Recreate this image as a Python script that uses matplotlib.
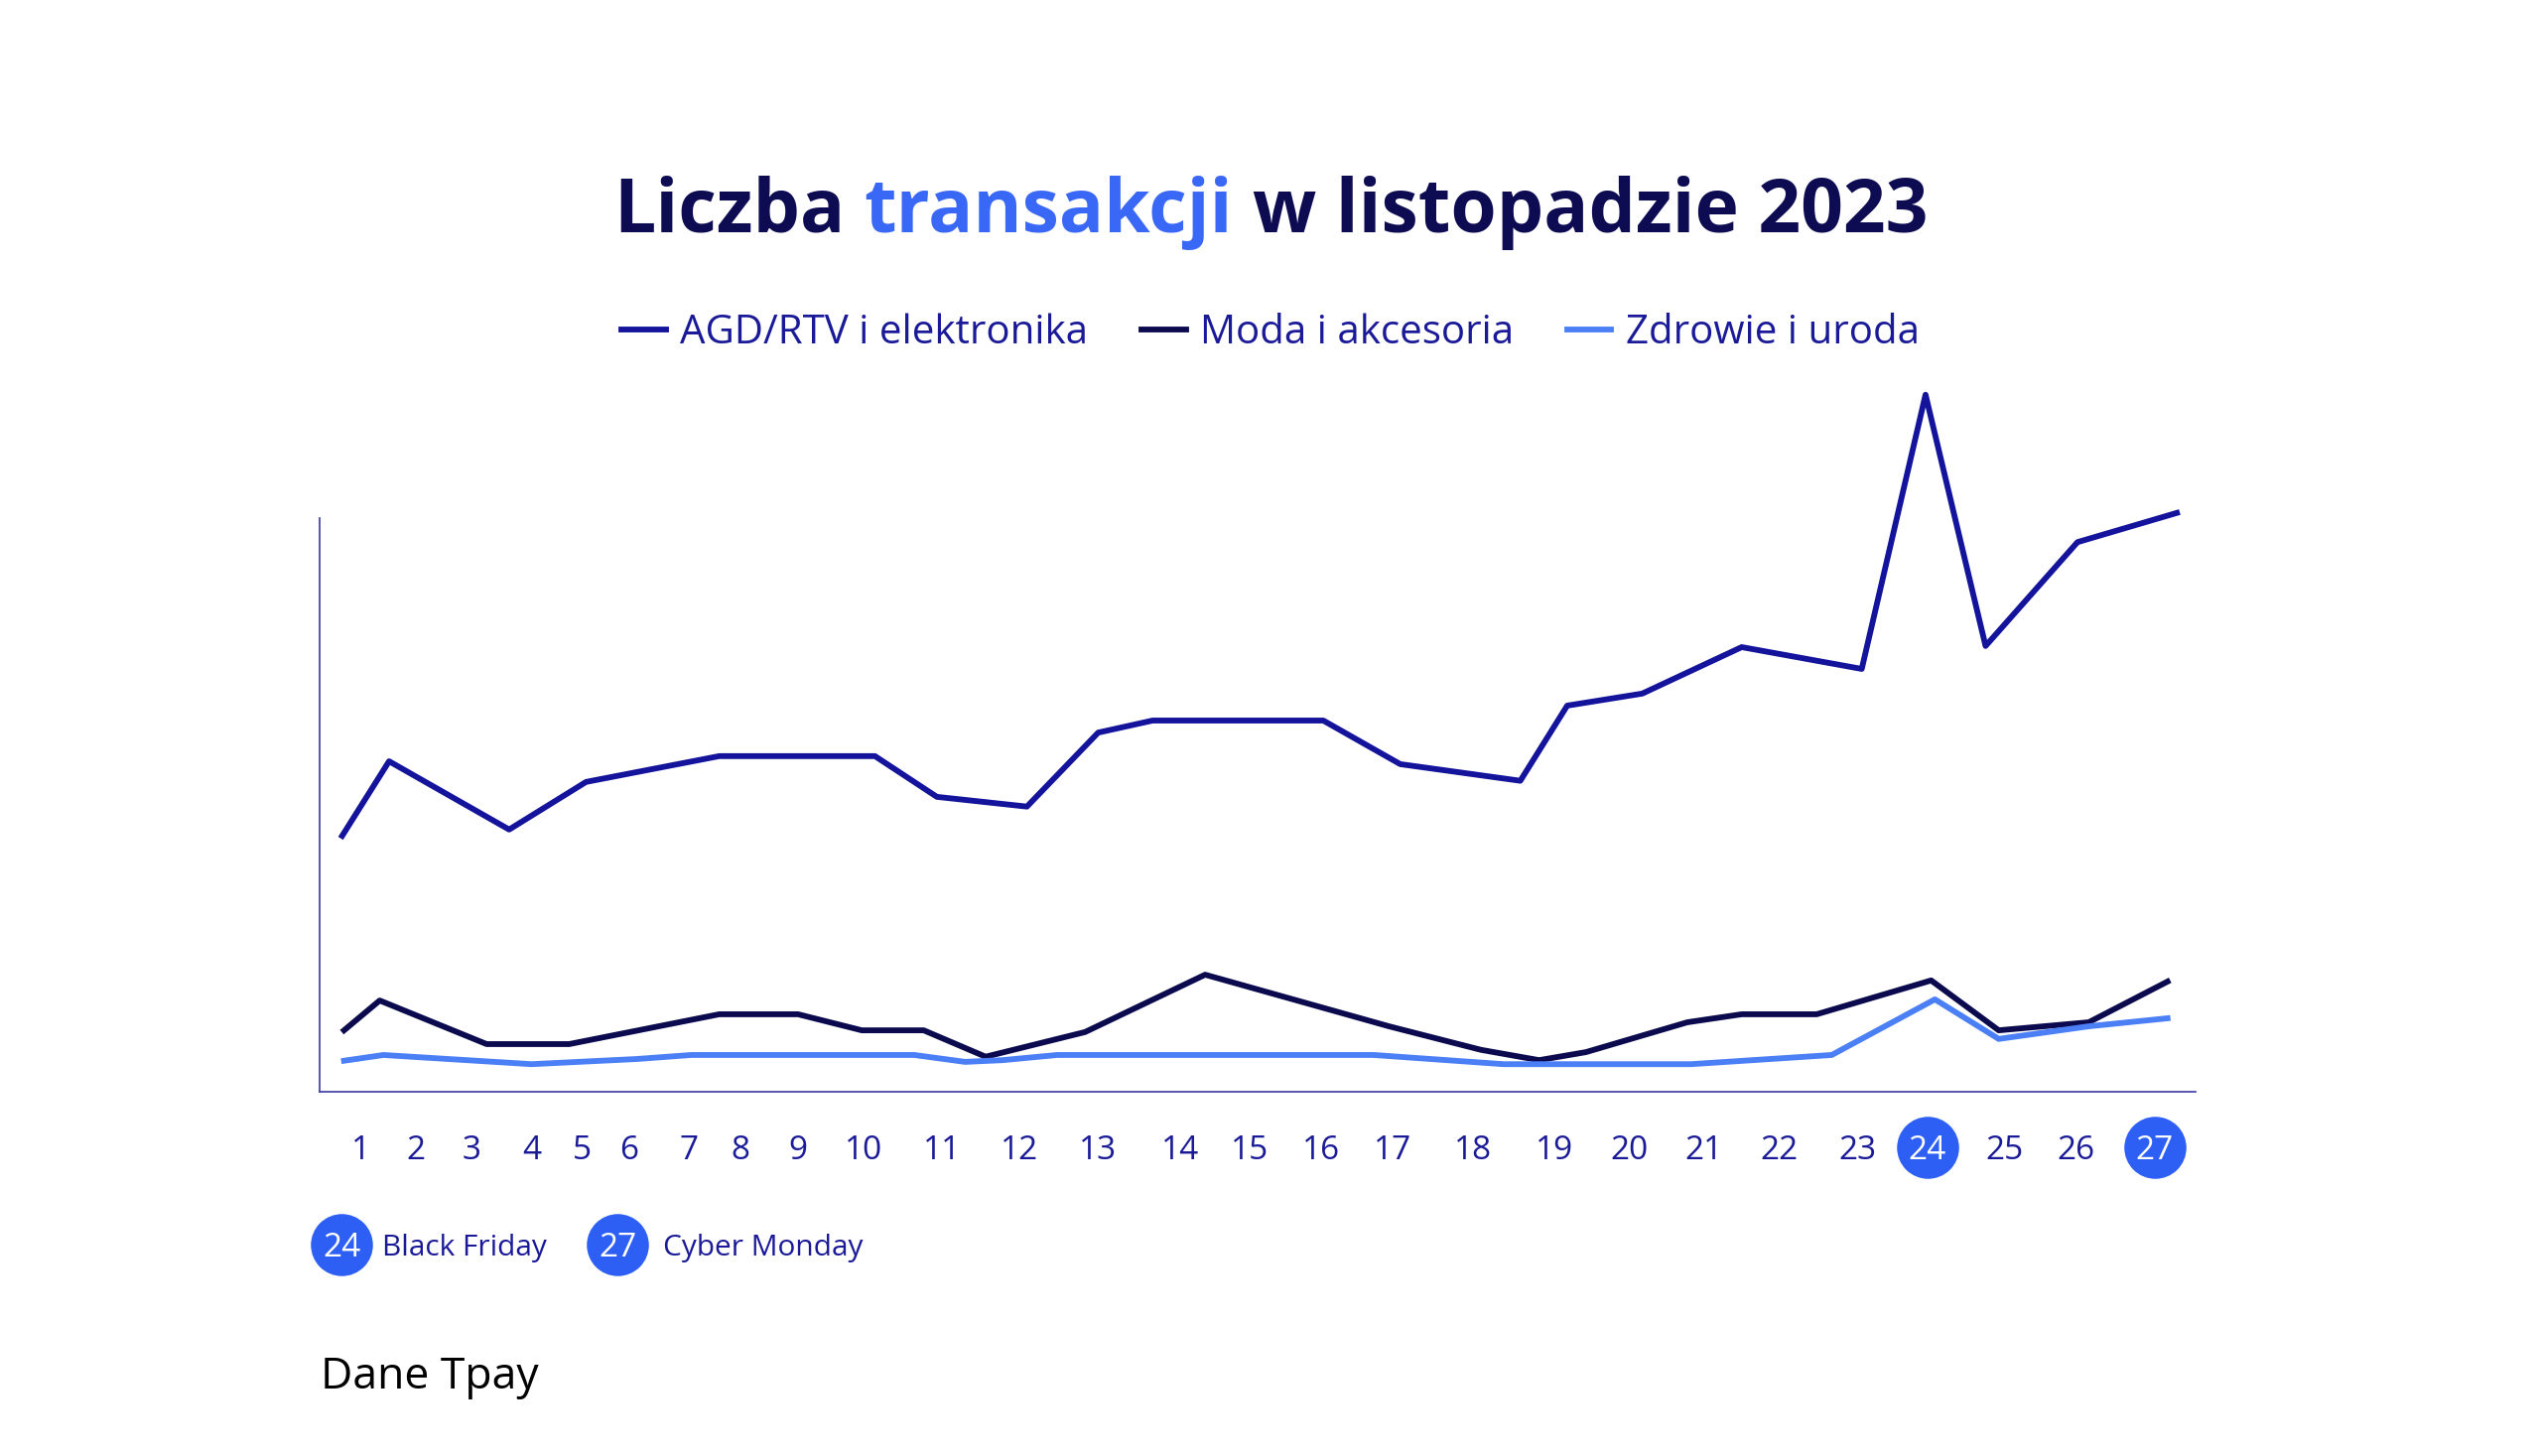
import matplotlib.pyplot as plt
from matplotlib.transforms import blended_transform_factory

plt.rcParams['font.family'] = ['Open Sans', 'DejaVu Sans']

# dni listopada i pozycje etykiet na osi (w % szerokości wykresu)
days = list(range(1, 28))
day_pos = [2.2, 5.1, 8.1, 11.3, 14.0, 16.5, 19.7, 22.4, 25.5, 29.0, 33.2, 37.3, 41.5,
           45.9, 49.6, 53.4, 57.2, 61.5, 65.8, 69.8, 73.8, 77.8, 82.0, 85.7, 89.8, 93.6, 97.8]
highlight = {24: 'Black Friday', 27: 'Cyber Monday'}

agd_x = [1.2, 3.7, 10.1, 14.2, 21.3, 29.6, 32.9, 37.7, 41.5, 44.4, 53.5, 57.6, 64.0,
         66.5, 70.5, 75.8, 82.2, 85.6, 88.8, 93.7, 99.0]
agd_y = [44.6, 57.6, 45.7, 54.0, 58.5, 58.5, 51.4, 49.7, 62.6, 64.7, 64.7, 57.1, 54.2,
         67.3, 69.4, 77.5, 73.7, 121.5, 77.7, 95.8, 100.9]

moda_x = [1.3, 3.2, 8.9, 13.3, 21.3, 25.5, 28.9, 32.2, 35.5, 40.8, 47.2, 57.0, 61.9,
          65.0, 67.5, 72.9, 75.8, 79.8, 85.9, 89.5, 94.3, 98.5]
moda_y = [10.7, 15.9, 8.3, 8.3, 13.5, 13.5, 10.7, 10.7, 6.1, 10.4, 20.4, 11.4, 7.3,
          5.5, 6.9, 12.1, 13.5, 13.5, 19.4, 10.7, 12.1, 19.2]

zdrowie_x = [1.3, 3.4, 11.3, 16.9, 19.8, 31.7, 34.4, 36.4, 39.3, 56.2, 63.1, 73.1,
             80.6, 86.1, 89.5, 94.3, 98.5]
zdrowie_y = [5.4, 6.4, 4.8, 5.7, 6.4, 6.4, 5.2, 5.5, 6.4, 6.4, 4.8, 4.8, 6.4, 16.1,
             9.2, 11.4, 12.8]

c_agd = '#13139b'
c_moda = '#0b0a4e'
c_zdr = '#4b7ff6'
c_text = '#1a1a98'
c_circle = '#2d5ff4'
c_navy = '#0d0b52'
c_hl = '#3a68f6'

fig = plt.figure(figsize=(25.6, 14.67), dpi=100)
ax = fig.add_axes([0.1258, 0.2502, 0.7383, 0.394])

lw = 4.2
ax.plot(agd_x, agd_y, color=c_agd, lw=lw, clip_on=False, label='AGD/RTV i elektronika')
ax.plot(moda_x, moda_y, color=c_moda, lw=lw, clip_on=False, label='Moda i akcesoria')
ax.plot(zdrowie_x, zdrowie_y, color=c_zdr, lw=lw, clip_on=False, label='Zdrowie i uroda')

ax.set_xlim(0, 100)
ax.set_ylim(0, 100)
for s in ['top', 'right']:
    ax.spines[s].set_visible(False)
for s in ['left', 'bottom']:
    ax.spines[s].set_color('#3a3aa8')
    ax.spines[s].set_linewidth(1.2)
ax.set_xticks([])
ax.set_yticks([])

# etykiety dni
trans = blended_transform_factory(ax.transData, fig.transFigure)
lab_y = 0.212
for d, p in zip(days, day_pos):
    col = c_text
    if d in highlight:
        ax.plot([p], [lab_y], 'o', ms=44, color=c_circle, transform=trans, clip_on=False)
        col = 'white'
    ax.text(p, lab_y - 0.0085, str(d), transform=trans, ha='center', va='baseline',
            color=col, fontsize=24)

# opis wyróżnionych dni
leg_y = 0.1452
for (d, name), cx, tx in zip(highlight.items(), [0.1344, 0.243], [0.1504, 0.261]):
    ax.plot([cx], [leg_y], 'o', ms=44, color=c_circle, transform=fig.transFigure, clip_on=False)
    fig.text(cx, leg_y - 0.0085, str(d), ha='center', va='baseline', color='white',
             fontsize=24)
    fig.text(tx, leg_y - 0.0075, name, ha='left', va='baseline', color=c_text,
             fontsize=21.5)

fig.legend(loc='center', bbox_to_anchor=(0.5, 0.771), ncol=3, frameon=False,
           handlelength=1.1, handletextpad=0.35, columnspacing=1.35,
           labelcolor=c_text, prop={'size': 29})

# tytuł w dwóch kolorach
title_parts = [('Liczba', c_navy), ('transakcji', c_hl), ('w listopadzie 2023', c_navy)]
tsize = 54
renderer = fig.canvas.get_renderer()
tt = [fig.text(0, 0.8405, s, color=c, fontsize=tsize, fontweight='bold', va='baseline')
      for s, c in title_parts]
widths = [t.get_window_extent(renderer).width for t in tt]
probe1 = fig.text(0, 0, 'a a', fontsize=tsize, fontweight='bold')
probe2 = fig.text(0, 0, 'aa', fontsize=tsize, fontweight='bold')
gap = probe1.get_window_extent(renderer).width - probe2.get_window_extent(renderer).width
probe1.remove()
probe2.remove()
W = fig.bbox.width
total = sum(widths) + gap * (len(tt) - 1)
x = (W - total) / 2
for t, w in zip(tt, widths):
    t.set_x(x / W)
    x += w + gap

fig.text(0.126, 0.0463, 'Dane Tpay', fontsize=32, color='black')

fig.savefig('out.png', dpi=100, facecolor='white')
